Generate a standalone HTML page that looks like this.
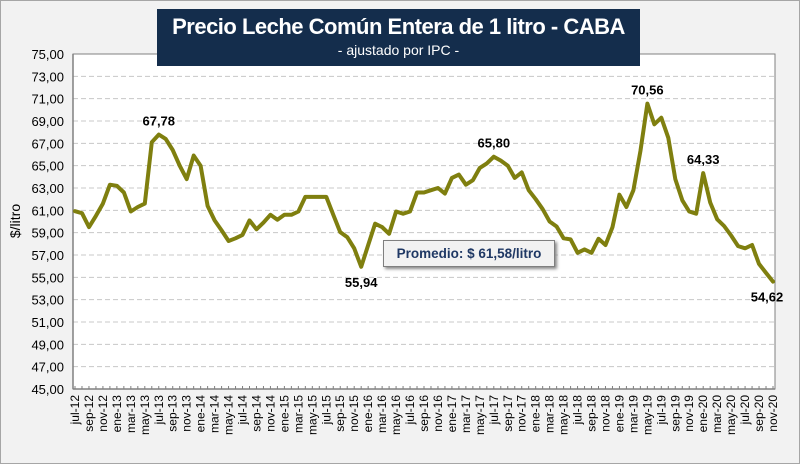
<!DOCTYPE html>
<html><head><meta charset="utf-8">
<style>
body{margin:0;width:800px;height:464px;overflow:hidden;background:#fff;font-family:"Liberation Sans",sans-serif}
#wrap{position:absolute;left:0;top:0;width:798px;height:462px;background:#f2f2f2;border:1px solid #a6a6a6}
</style></head>
<body>
<div id="wrap">
<svg id="chart" width="800" height="464" style="position:absolute;left:-1px;top:-1px"></svg>
</div>
<script>
const months=["jul","ago","sep","oct","nov","dic","ene","feb","mar","abr","may","jun"];
const yTicks=[45,47,49,51,53,55,57,59,61,63,65,67,69,71,73,75];
const values=[60.92,60.74,59.5,60.5,61.6,63.3,63.2,62.6,60.9,61.3,61.6,67.1,67.78,67.4,66.4,65.0,63.8,65.9,65.0,61.4,60.1,59.2,58.25,58.5,58.8,60.1,59.3,59.9,60.6,60.15,60.6,60.6,60.9,62.2,62.2,62.2,62.2,60.6,59.05,58.6,57.6,55.94,57.9,59.8,59.5,58.9,60.9,60.7,60.9,62.6,62.6,62.8,63.0,62.5,63.9,64.2,63.3,63.7,64.8,65.2,65.8,65.45,65.0,63.9,64.4,62.8,62.0,61.1,60.0,59.55,58.5,58.4,57.2,57.5,57.2,58.45,57.9,59.5,62.4,61.3,62.8,66.3,70.56,68.7,69.3,67.5,63.8,61.9,60.9,60.7,64.33,61.7,60.2,59.6,58.75,57.8,57.6,57.9,56.2,55.4,54.62];
const annotIdx=[12,41,60,82,90,100];
const annotPos=["above","below","above","above","above","below"];
const categories=values.map((v,i)=>{const m=i%12;const y=12+Math.floor((6+i)/12);return months[m]+"-"+y;});
const NS="http://www.w3.org/2000/svg";
const svg=document.getElementById('chart');
const L=73,R=775,T=54,B=389,yMin=45,yMax=75;
const xS=i=>L+2+i*(R-L-4)/(values.length-1);
const yS=v=>B-(v-yMin)/(yMax-yMin)*(B-T);
function el(t,a,txt){const e=document.createElementNS(NS,t);for(const k in a)e.setAttribute(k,a[k]);if(txt!==undefined)e.textContent=txt;svg.appendChild(e);return e;}
const fmt=v=>v.toFixed(2).replace('.',',');
let pa=el('rect',{x:L,y:T,width:R-L,height:B-T,fill:'#fff',stroke:'#808080','stroke-width':1});

yTicks.forEach(t=>{
  if(t>yMin&&t<yMax){let g=el('line',{x1:L,x2:R,y1:yS(t),y2:yS(t),stroke:'#c8c8c8','stroke-dasharray':'5,3','stroke-width':1});
  }
  let lb=el('text',{x:L-9,y:yS(t)+5,'text-anchor':'end','font-size':'13',fill:'#000'},fmt(t));
  
});
let ax=el('line',{x1:L,x2:L,y1:T,y2:B,stroke:'#808080','stroke-width':1.5});

let bx=el('line',{x1:L,x2:R,y1:B,y2:B,stroke:'#808080','stroke-width':1.5});

categories.forEach((c,i)=>{
  let tk=el('line',{x1:xS(i),x2:xS(i),y1:B,y2:B-3,stroke:'#808080'});
  
  if(i%2===0){let x=xS(i)+4;let y=B+6;
   let t=el('text',{x:x,y:y,'text-anchor':'end','font-size':'12',fill:'#000',transform:`rotate(-90 ${x} ${y})`},c);
   }
});
let yt=el('text',{x:20,y:221,'text-anchor':'middle','font-size':'14',fill:'#000',transform:'rotate(-90 20 221)'},'$/litro');

let d=values.map((v,i)=>(i?'L':'M')+xS(i).toFixed(1)+','+yS(v).toFixed(1)).join(' ');
let ln=el('path',{d:d,fill:'none',stroke:'#7f7f0f','stroke-width':4,'stroke-linejoin':'round','stroke-linecap':'round'});

annotIdx.forEach((i,k)=>{
  let below=annotPos[k]==='below';let x=xS(i);if(i===values.length-1)x-=6;
  let t=el('text',{x:x,y:below?yS(values[i])+20:yS(values[i])-9,'text-anchor':'middle','font-size':'13','font-weight':'bold',fill:'#000'},fmt(values[i]));
  
});
</script>
<div style="position:absolute;left:157px;top:9px;width:483px;height:57px;background:#142d4c;color:#fff;text-align:center">
  <div style="font-size:22px;font-weight:bold;margin-top:5px;letter-spacing:-0.5px">Precio Leche Común Entera de 1 litro - CABA</div>
  <div style="font-size:14px;text-align:center;margin-top:2px">- ajustado por IPC -</div>
</div>
<div style="position:absolute;left:383px;top:240px;width:170px;height:25px;background:#f2f2f2;border:1px solid #7f7f7f;box-shadow:2px 2px 3px #888;color:#1f3864;font-weight:bold;font-size:13.5px;line-height:25px;text-align:center">Promedio: $ 61,58/litro</div>
</body></html>
